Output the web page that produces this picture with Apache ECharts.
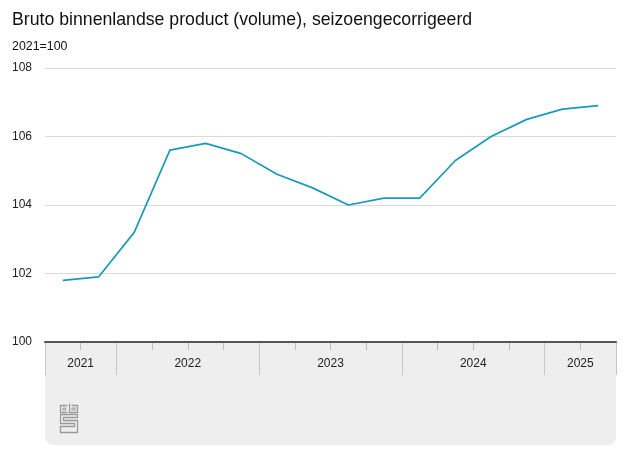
<!DOCTYPE html>
<html>
<head>
<meta charset="utf-8">
<script src="https://cdn.jsdelivr.net/npm/echarts@6/dist/echarts.min.js"></script>
<style>html,body{margin:0;padding:0;background:#fff}#c{width:627px;height:470px}</style>
</head>
<body>
<div id="c"></div>
<script>
var quarters = ['2021 Q3','2021 Q4','2022 Q1','2022 Q2','2022 Q3','2022 Q4','2023 Q1','2023 Q2','2023 Q3','2023 Q4','2024 Q1','2024 Q2','2024 Q3','2024 Q4','2025 Q1','2025 Q2'];
var gdp = [101.8, 101.9, 103.2, 105.6, 105.8, 105.5, 104.9, 104.5, 104.0, 104.2, 104.2, 105.3, 106.0, 106.5, 106.8, 106.9];
var years = ['2021','2022','2023','2024','2025'];
var quartersPerYear = [2, 4, 4, 4, 2];
var yTicks = [100, 102, 104, 106, 108];

// derive year centres, quarter ticks and year separators on a 0..N scale
var yearCenters = [], yearBounds = [0], quarterTicks = [], labelMap = {};
var pos = 0;
for (var i = 0; i < years.length; i++) {
  var c = pos + quartersPerYear[i] / 2;
  yearCenters.push(c);
  labelMap[c] = years[i];
  for (var k = 1; k < quartersPerYear[i]; k++) quarterTicks.push(pos + k);
  pos += quartersPerYear[i];
  yearBounds.push(pos);
}
var N = quarters.length;

var chart = echarts.init(document.getElementById('c'), null, {renderer: 'canvas'});
var FONT = 'Liberation Sans, Arial, sans-serif';
var gridL = 45, gridR = 11, gridT = 68, gridB = 128;

var option = {
  animation: false,
  title: [
    {text: 'Bruto binnenlandse product (volume), seizoengecorrigeerd', left: 7, top: 6,
     textStyle: {fontFamily: FONT, fontSize: 17.7, fontWeight: 'normal', color: '#111'}},
    {text: '2021=100', left: 7, top: 36,
     textStyle: {fontFamily: FONT, fontSize: 12.4, fontWeight: 'normal', color: '#111'}}
  ],
  grid: {left: gridL, right: gridR, top: gridT, bottom: gridB, containLabel: false},
  xAxis: [
    {type: 'category', data: quarters, boundaryGap: true, position: 'bottom',
     axisLine: {show: true, lineStyle: {color: '#555', width: 2}},
     axisTick: {show: false}, axisLabel: {show: false}, splitLine: {show: false}, z: 5},
    {type: 'value', min: 0, max: N, position: 'bottom', gridIndex: 0,
     axisLine: {show: false}, splitLine: {show: false},
     axisTick: {show: true, customValues: quarterTicks, length: 8, lineStyle: {color: '#bdbdbd', width: 1}},
     axisLabel: {show: true, customValues: yearCenters, margin: 16,
       formatter: function (v) { return labelMap[v] || ''; },
       fontFamily: FONT, fontSize: 12, color: '#222'}},
    {type: 'value', min: 0, max: N, position: 'bottom', gridIndex: 0,
     axisLine: {show: false}, splitLine: {show: false},
     axisTick: {show: true, customValues: yearBounds, length: 33, lineStyle: {color: '#c8c8c8', width: 1}},
     axisLabel: {show: false}}
  ],
  yAxis: {
    type: 'value', min: 100, max: 108, interval: 2,
    axisLine: {show: false}, axisTick: {show: false},
    splitLine: {show: true, lineStyle: {color: '#d9d9d9', width: 1}},
    axisLabel: {align: 'left', margin: 33, fontFamily: FONT, fontSize: 12, color: '#222',
      customValues: yTicks}
  },
  series: [{
    type: 'line', data: gdp, xAxisIndex: 0, symbol: 'none', smooth: false,
    lineStyle: {color: '#1a9abb', width: 1.7}, z: 3
  }],
  graphic: {elements: [
    {type: 'rect', z: -100, shape: {x: gridL, y: 343, width: 627 - gridL - gridR, height: 102, r: [0, 0, 8, 8]},
     style: {fill: '#eeeeee'}},
    {type: 'group', left: 58, top: 401, z: -50, children: [
      {type: 'polyline', shape: {points: [[8,2],[1,2],[1,9],[8,9]]}, style: {stroke: '#9a9a9a', lineWidth: 1.3, fill: null}},
      {type: 'polyline', shape: {points: [[3.5,4.5],[6,4.5],[6,6.5],[3.5,6.5],[3.5,4.5]]}, style: {stroke: '#9a9a9a', lineWidth: 1.1, fill: null}},
      {type: 'polyline', shape: {points: [[10,0],[10,9],[18,9],[18,2],[12,2]]}, style: {stroke: '#9a9a9a', lineWidth: 1.3, fill: null}},
      {type: 'polyline', shape: {points: [[12.5,4.5],[15.5,4.5],[15.5,6.5],[12.5,6.5],[12.5,4.5]]}, style: {stroke: '#9a9a9a', lineWidth: 1.1, fill: null}},
      {type: 'polyline', shape: {points: [[18,11],[1,11],[1,20],[15,20],[15,23],[1,23],[1,29],[18,29],[18,17],[4,17],[4,14],[18,14],[18,11]]}, style: {stroke: '#9a9a9a', lineWidth: 1.3, fill: null}}
    ]}
  ]}
};
chart.setOption(option);
</script>
</body>
</html>
